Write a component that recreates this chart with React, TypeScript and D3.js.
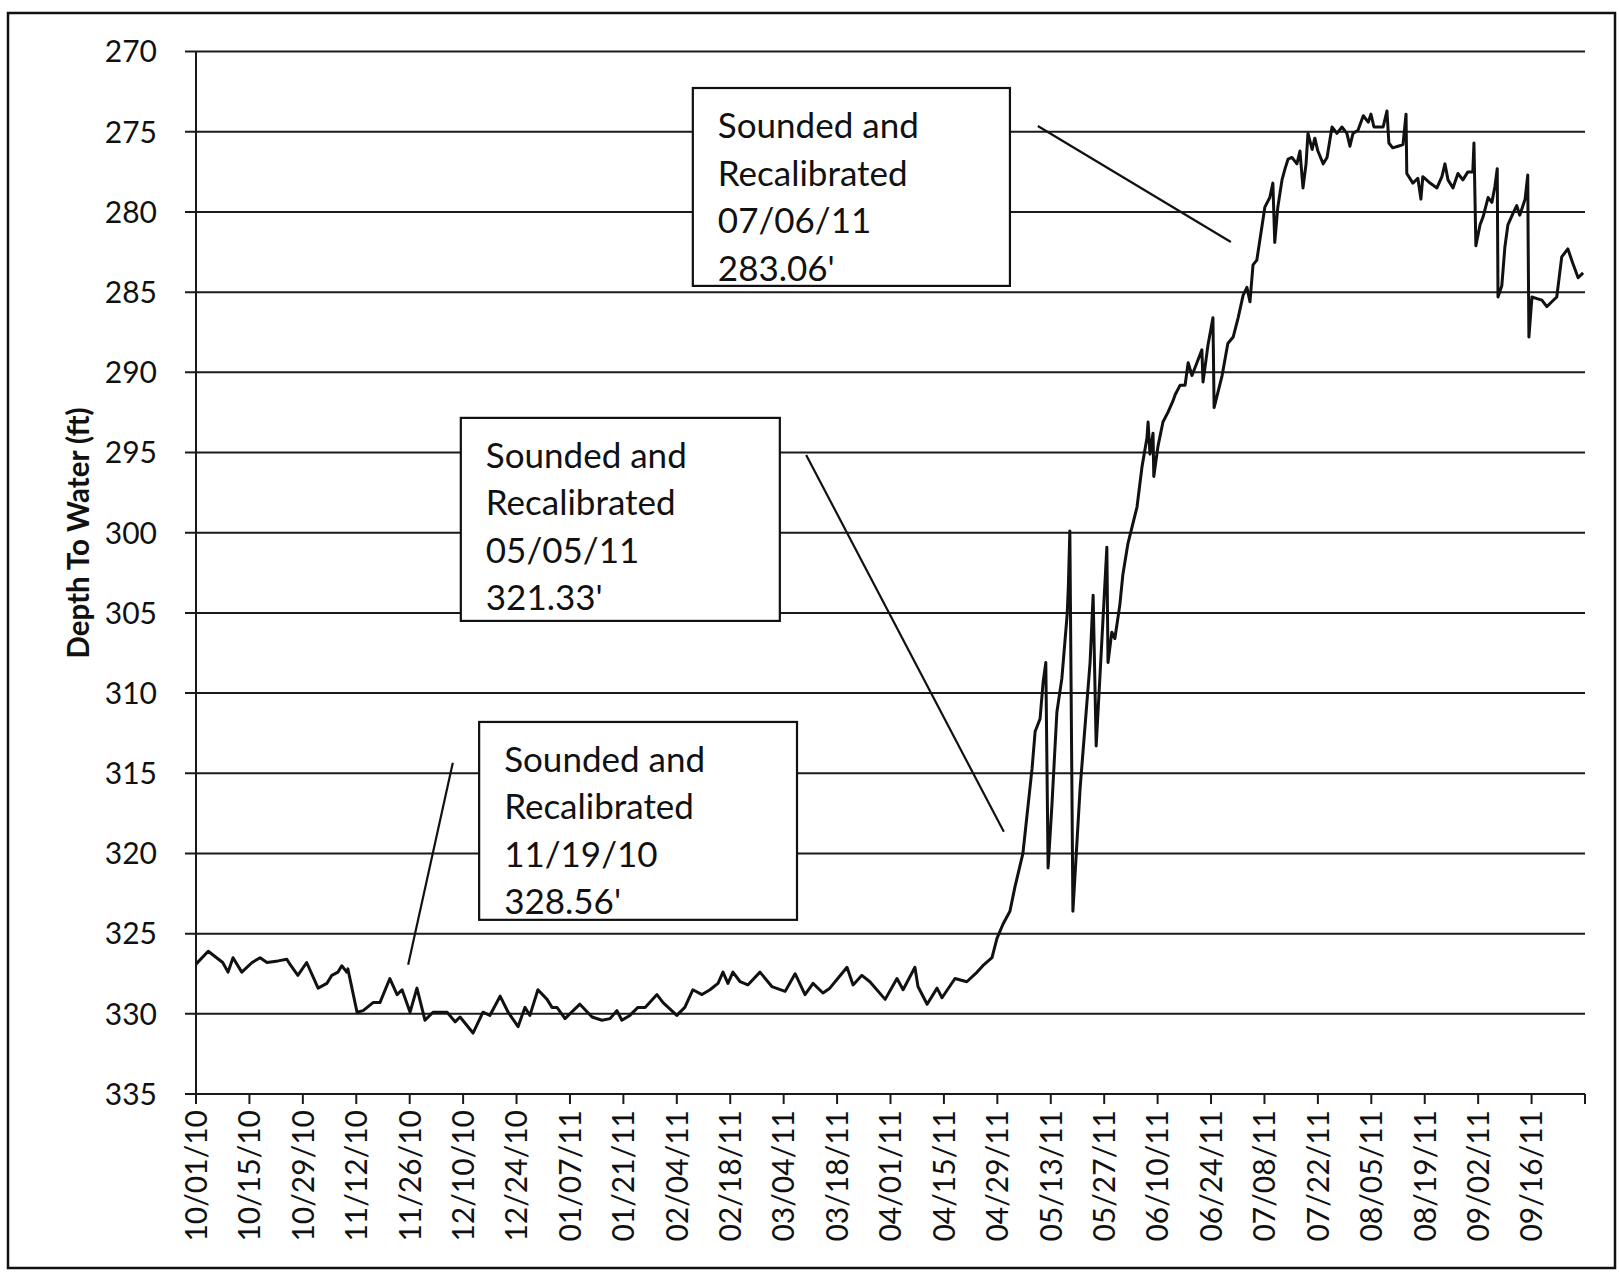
import React from "react";
import * as d3 from "d3";

// ---- data (day offset from 10/01/10, depth to water in ft) ----
const dayOffsets = [
  0, 3.2, 7, 8.4, 9.7, 12, 14.7, 16.8, 18.6, 21.5, 23.8, 24.6, 26.7, 29, 32, 34.3, 35.6, 37.2, 38.2, 39.5,
  39.8, 42.2, 43.8, 46.4, 48.2, 50.8, 52.7, 54, 56.1, 57.9, 60, 62.1, 65.8, 67.9, 69.2, 72.6, 75.2, 77, 79.7, 81.8,
  84.4, 86.2, 87.5, 89.6, 92, 93.3, 94.6, 96.7, 100.6, 103.8, 106.4, 108.5, 110.3, 111.6, 113.7, 115.8, 117.7, 120.8, 122.4, 126,
  128.1, 130.2, 132.6, 134.7, 136.8, 138.1, 139.4, 140.7, 142.6, 144.6, 147.8, 150.9, 154.4, 157, 159.6, 161.7, 164.3, 166.1, 168.5, 170.6,
  172.2, 174.5, 176.6, 180.6, 183.7, 185.3, 188.4, 189.2, 191.6, 194.2, 195.5, 198.9, 202, 204.7, 206.2, 208.6, 209.9, 211.5, 213.3, 214.6,
  216.7, 219.1, 219.9, 221.2, 222, 222.7, 223.3, 224.3, 225.6, 226.9, 228.3, 228.6, 229.0, 229.8, 231.7, 234.3, 235.1, 235.9, 236.9, 238.7,
  239, 240, 240.8, 242.1, 242.9, 244.2, 246.6, 247.9, 249.2, 249.5, 250, 250.8, 251, 252.1, 253.4, 254.7, 256, 256.6, 257.9, 259.2,
  260, 261, 262.3, 263.6, 263.9, 265.2, 266.5, 266.8, 268.9, 270.4, 271.8, 273.1, 274.4, 275.4, 276.2, 277, 278, 280.1, 281.4, 282.2,
  282.7, 283.5, 284.6, 285.4, 286.2, 287.2, 288.5, 289.3, 290.1, 290.9, 291.4, 292.5, 293.2, 294, 295.4, 296.4, 297.7, 299, 300.3, 301.6,
  302.4, 303.2, 304.5, 305.9, 307.2, 307.9, 308.7, 309.8, 311.1, 312.1, 312.6, 313.6, 315, 316.3, 317.1, 317.3, 318.9, 320.2, 321, 321.5,
  323.4, 325.2, 326.5, 327.3, 328.1, 329.4, 330.7, 332, 333.3, 334.6, 334.9, 335.4, 336.5, 337.3, 338.6, 339.6, 340.4, 341, 341.2, 342.2,
  343, 343.8, 345.1, 346.1, 346.9, 348.3, 349, 349.1, 349.3, 350.1, 351.4, 352.7, 354, 355.3, 356.6, 357.9, 359.5, 360.8, 362.2, 363.5,
];
const depths = [
  326.9, 326.1, 326.8, 327.4, 326.5, 327.4, 326.8, 326.5, 326.8, 326.7, 326.6, 326.9, 327.6, 326.8, 328.4, 328.1, 327.6, 327.4, 327.0, 327.4,
  327.2, 329.9, 329.8, 329.3, 329.3, 327.8, 328.8, 328.5, 329.9, 328.4, 330.4, 329.9, 329.9, 330.5, 330.2, 331.2, 329.9, 330.1, 328.9, 329.9,
  330.8, 329.6, 330.1, 328.5, 329.1, 329.6, 329.6, 330.3, 329.4, 330.2, 330.4, 330.3, 329.8, 330.4, 330.1, 329.6, 329.6, 328.8, 329.3, 330.1,
  329.6, 328.5, 328.8, 328.5, 328.1, 327.4, 328.1, 327.4, 328.0, 328.2, 327.4, 328.3, 328.6, 327.5, 328.8, 328.1, 328.7, 328.4, 327.7, 327.1,
  328.2, 327.6, 328.0, 329.1, 327.8, 328.5, 327.1, 328.3, 329.4, 328.4, 329.0, 327.8, 328.0, 327.4, 327.0, 326.5, 325.3, 324.4, 323.6, 322.1,
  320.0, 314.7, 312.4, 311.6, 309.3, 308.1, 320.9, 317.0, 311.2, 309.1, 305.1, 303.4, 299.9, 323.6, 315.9, 308.1, 303.9, 313.3, 308.9, 300.9,
  308.1, 306.2, 306.6, 304.5, 302.6, 300.7, 298.4, 295.9, 294.1, 293.1, 295.1, 293.8, 296.5, 294.6, 293.1, 292.5, 291.8, 291.4, 290.8, 290.8,
  289.4, 290.2, 289.4, 288.6, 290.6, 288.3, 286.6, 292.2, 290.2, 288.2, 287.8, 286.6, 285.2, 284.7, 285.6, 283.3, 283.0, 279.7, 279.1, 278.2,
  281.9, 279.7, 278.0, 277.3, 276.7, 276.6, 277.0, 276.2, 278.5, 277.0, 275.1, 276.1, 275.4, 276.2, 277.0, 276.6, 274.7, 275.1, 274.7, 275.1,
  275.9, 275.1, 274.9, 274.0, 274.4, 273.9, 274.7, 274.7, 274.7, 273.7, 275.7, 276.0, 275.9, 275.8, 273.9, 277.6, 278.2, 277.9, 279.2, 277.8,
  278.2, 278.5, 277.8, 277.0, 278.0, 278.5, 277.6, 278.0, 277.5, 277.5, 275.7, 282.1, 280.8, 280.3, 279.1, 279.4, 278.4, 277.3, 285.3, 284.6,
  282.2, 280.8, 280.1, 279.6, 280.2, 279.2, 277.7, 281.8, 287.8, 285.3, 285.4, 285.5, 285.9, 285.6, 285.3, 282.8, 282.3, 283.2, 284.1, 283.8,
];

const tickLabels = [
  "10/01/10", "10/15/10", "10/29/10", "11/12/10", "11/26/10", "12/10/10", "12/24/10",
  "01/07/11", "01/21/11", "02/04/11", "02/18/11", "03/04/11", "03/18/11", "04/01/11",
  "04/15/11", "04/29/11", "05/13/11", "05/27/11", "06/10/11", "06/24/11", "07/08/11",
  "07/22/11", "08/05/11", "08/19/11", "09/02/11", "09/16/11",
];
const yTicks = [270, 275, 280, 285, 290, 295, 300, 305, 310, 315, 320, 325, 330, 335];
const yTitle = "Depth To Water (ft)";

const annotationTexts = [
  ["Sounded and", "Recalibrated", "07/06/11", "283.06'"],
  ["Sounded and", "Recalibrated", "05/05/11", "321.33'"],
  ["Sounded and", "Recalibrated", "11/19/10", "328.56'"],
];
// boxes in data space: [day0, depth0, day1, depth1]
const annotationBoxes = [
  [130.2, 272.27, 213.3, 284.61],
  [69.4, 292.84, 153.0, 305.5],
  [74.2, 311.8, 157.5, 324.14],
];
// leader lines in data space: [day, depth, day, depth]
const annotationLeaders = [
  [220.6, 274.64, 271.2, 281.87],
  [159.9, 295.15, 211.7, 318.65],
  [67.3, 314.35, 55.6, 326.94],
];

const W = 1619;
const H = 1272;
const FONT = "Lato, 'Open Sans', sans-serif";

export default function App() {
  const x = d3.scaleLinear().domain([0, 364]).range([196, 1585]);
  const y = d3.scaleLinear().domain([270, 335]).range([51.6, 1094]);

  const pts = dayOffsets.map((d, i) => [d, depths[i]] as [number, number]);
  const line = d3
    .line<[number, number]>()
    .x((p) => x(p[0]))
    .y((p) => y(p[1]));

  const xTickDays = tickLabels.map((_, i) => i * 14).concat([364]);

  return (
    <svg
      width={W}
      height={H}
      style={{ position: "absolute", left: 0, top: 0, background: "#fff" }}
      fontFamily={FONT}
    >
      <rect x={0} y={0} width={W} height={H} fill="#fff" />
      <rect x={8} y={13} width={1607} height={1255} fill="none" stroke="#111" strokeWidth={2.5} />

      {/* gridlines + y ticks */}
      {yTicks.map((v) => (
        <g key={v}>
          <line x1={x(0) - 11} x2={x(364)} y1={y(v)} y2={y(v)} stroke="#1a1a1a" strokeWidth={2} />
          <text x={157} y={y(v)} dy="0.36em" textAnchor="end" fontSize={30} fill="#111">
            {v}
          </text>
        </g>
      ))}
      {/* y axis */}
      <line x1={x(0)} x2={x(0)} y1={y(270)} y2={y(335)} stroke="#1a1a1a" strokeWidth={2} />

      {/* x ticks */}
      {xTickDays.map((d, i) => (
        <line key={i} x1={x(d)} x2={x(d)} y1={y(335)} y2={y(335) + 10} stroke="#1a1a1a" strokeWidth={2} />
      ))}
      {tickLabels.map((t, i) => (
        <text
          key={t}
          transform={`translate(${x(i * 14)},${y(335) + 16}) rotate(-90)`}
          dy="0.36em"
          textAnchor="end"
          fontSize={30}
          fill="#111"
        >
          {t}
        </text>
      ))}

      {/* y title */}
      <text
        transform={`translate(78,533) rotate(-90)`}
        dy="0.36em"
        textAnchor="middle"
        fontSize={29.5}
        fontWeight="bold"
        fill="#111"
      >
        {yTitle}
      </text>

      {/* data line */}
      <path d={line(pts) || ""} fill="none" stroke="#111" strokeWidth={3} strokeLinejoin="round" />

      {/* annotations */}
      {annotationTexts.map((lines, i) => {
        const [d0, v0, d1, v1] = annotationBoxes[i];
        const [ld0, lv0, ld1, lv1] = annotationLeaders[i];
        const bx = x(d0);
        const by = y(v0);
        return (
          <g key={i}>
            <line x1={x(ld0)} y1={y(lv0)} x2={x(ld1)} y2={y(lv1)} stroke="#111" strokeWidth={2.2} />
            <rect x={bx} y={by} width={x(d1) - bx} height={y(v1) - by} fill="#fff" stroke="#111" strokeWidth={2.2} />
            {lines.map((s, j) => (
              <text key={j} x={bx + 25} y={by + 50 + j * 47.5} fontSize={35} fill="#111">
                {s}
              </text>
            ))}
          </g>
        );
      })}
    </svg>
  );
}
